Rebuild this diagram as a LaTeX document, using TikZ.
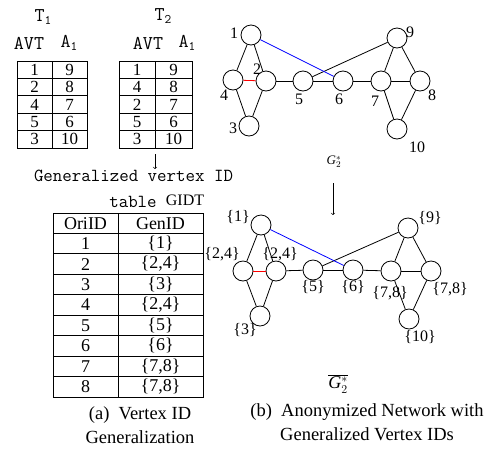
\documentclass[tikz,border=0pt]{standalone}
\usepackage{fontspec}
\setmainfont{Liberation Serif}
\begin{document}
\begin{tikzpicture}[x=1pt,y=-1pt,
  vtx/.style={draw,circle,minimum size=20pt,inner sep=0pt,line width=0.8pt},
  edge/.style={line width=0.8pt},
  lbl/.style={inner sep=0pt,font=\fontsize{16}{18}\selectfont},
  tnum/.style={inner sep=0pt,font=\fontsize{17}{18}\selectfont},
  gnum/.style={inner sep=0pt,font=\fontsize{18}{20}\selectfont},
  mono/.style={inner sep=0pt,font=\fontsize{18.4}{20}\selectfont\ttfamily},
  monob/.style={inner sep=0pt,font=\fontsize{19.5}{20}\selectfont\ttfamily},
  captxt/.style={inner sep=0pt,font=\fontsize{18.5}{20}\selectfont},
  tab/.style={line width=0.8pt},
  arr/.style={->,line width=0.6pt}]
\useasboundingbox (0,0) rectangle (495,448);

% ---------- T1 / T2 ----------
\node[monob] (t1title) at (43,17) {T\raisebox{-0.35ex}{\fontsize{13}{14}\selectfont 1}};
\node[monob] (t2title) at (163,16) {T\raisebox{-0.35ex}{\fontsize{13}{14}\selectfont 2}};
\node[monob] (t1avt) at (29,43) {AVT};
\node[monob] (t1a) at (69,43) {A\raisebox{-0.35ex}{\fontsize{13}{14}\selectfont 1}};
\node[monob] (t2avt) at (148,43) {AVT};
\node[monob] (t2a) at (187,43) {A\raisebox{-0.35ex}{\fontsize{13}{14}\selectfont 1}};

\draw[tab] (17,61) rectangle (87,148);
\draw[tab] (52,61) -- (52,148);
\foreach \k in {1,...,4} \draw[tab] (17,61+\k*17.4) -- (87,61+\k*17.4);
\foreach \a/\b [count=\i] in {1/9,2/8,4/7,5/6,3/10}{
  \node[tnum] (ta\i) at (34.5,61+\i*17.4-8.7) {\a};
  \node[tnum] (tb\i) at (69.5,61+\i*17.4-8.7) {\b};
}
\draw[tab] (119,61) rectangle (192,148);
\draw[tab] (155,61) -- (155,148);
\foreach \k in {1,...,4} \draw[tab] (119,61+\k*17.4) -- (192,61+\k*17.4);
\foreach \a/\b [count=\i] in {1/9,4/8,2/7,5/6,3/10}{
  \node[tnum] (sa\i) at (137,61+\i*17.4-8.7) {\a};
  \node[tnum] (sb\i) at (173.5,61+\i*17.4-8.7) {\b};
}
\coordinate (la0) at (155,154);
\coordinate (la1) at (155,169);
\draw[arr] (la0) -- (la1);

\node[mono] (gentxt) at (133.5,176) {Generalized vertex ID};
\node[mono] (tabtxt) at (133,202) {table};
\node[inner sep=0pt,font=\fontsize{16}{18}\selectfont] (gidt) at (185,200) {GIDT};

% ---------- GIDT table ----------
\draw[tab] (53,213) rectangle (203,397);
\draw[tab] (118,213) -- (118,397);
\foreach \k in {1,...,8} \draw[tab] (53,213+\k*20.44) -- (203,213+\k*20.44);
\foreach \a/\b [count=\i] in {OriID/GenID,1/\{1\},2/{\{2,4\}},3/\{3\},4/{\{2,4\}},5/\{5\},6/\{6\},7/{\{7,8\}},8/{\{7,8\}}}{
  \node[gnum] (ga\i) at (85.5,213+\i*20.44-10.22) {\a};
  \node[gnum] (gb\i) at (160.5,213+\i*20.44-10.22) {\b};
}
\node[captxt] (capa1) at (140,415) {(a)\ \ Vertex ID};
\node[captxt] (capa2) at (140,437) {Generalization};

% ---------- top graph ----------
\node[vtx] (n1) at (251,35) {};
\node[vtx] (n2) at (266,81) {};
\node[vtx] (n4) at (233,80) {};
\node[vtx] (n3) at (249,126) {};
\node[vtx] (n5) at (303,81) {};
\node[vtx] (n6) at (343,81) {};
\node[vtx] (n7) at (381,81) {};
\node[vtx] (n8) at (420,81) {};
\node[vtx] (n9) at (397,38) {};
\node[vtx] (n10) at (397,129) {};
\draw[edge] (n1) -- (n4);
\draw[edge] (n1) -- (n2);
\draw[edge] (n4) -- (n3);
\draw[edge] (n2) -- (n3);
\draw[edge,red] (n4) -- (n2);
\draw[edge] (n2) -- (n5);
\draw[edge] (n5) -- (n6);
\draw[edge] (n6) -- (n7);
\draw[edge] (n7) -- (n8);
\draw[edge] (n7) -- (n9);
\draw[edge] (n9) -- (n8);
\draw[edge] (n7) -- (n10);
\draw[edge] (n8) -- (n10);
\draw[edge] (n5) -- (n9);
\draw[edge,blue] (n1) -- (n6);
\node[lbl] (l1) at (234,33) {1};
\node[lbl] (l2) at (257,69) {2};
\node[lbl] (l4) at (224,95) {4};
\node[lbl] (l3) at (233,128) {3};
\node[lbl] (l5) at (299,99) {5};
\node[lbl] (l6) at (339,99) {6};
\node[lbl] (l7) at (375,101) {7};
\node[lbl] (l8) at (432,95) {8};
\node[lbl] (l9) at (410,32) {9};
\node[lbl] (l10) at (417,147) {10};
\node[inner sep=0pt,font=\fontsize{13}{14}\selectfont] (gtop) at (334,162) {\textit{G}$_{2}^{*}$};
\coordinate (ra0) at (333,183);
\coordinate (ra1) at (333,215);
\draw[arr] (ra0) -- (ra1);

% ---------- bottom graph ----------
\node[vtx] (m1) at (261,225) {};
\node[vtx] (m2) at (243,271) {};
\node[vtx] (m4) at (276,271) {};
\node[vtx] (m3) at (260,316) {};
\node[vtx] (m5) at (313,270) {};
\node[vtx] (m6) at (353,270) {};
\node[vtx] (m7) at (391,271) {};
\node[vtx] (m8) at (431,271) {};
\node[vtx] (m9) at (408,228) {};
\node[vtx] (m10) at (409,319) {};
\draw[edge] (m1) -- (m2);
\draw[edge] (m1) -- (m4);
\draw[edge] (m2) -- (m3);
\draw[edge] (m4) -- (m3);
\draw[edge,red] (m2) -- (m4);
\draw[edge] (m4) -- (m5);
\draw[edge] (m5) -- (m6);
\draw[edge] (m6) -- (m7);
\draw[edge] (m7) -- (m8);
\draw[edge] (m7) -- (m9);
\draw[edge] (m9) -- (m8);
\draw[edge] (m7) -- (m10);
\draw[edge] (m8) -- (m10);
\draw[edge] (m5) -- (m9);
\draw[edge,blue] (m1) -- (m6);
\node[lbl] (k1) at (238,217) {\{1\}};
\node[lbl] (k2) at (222,254) {\{2,4\}};
\node[lbl] (k4) at (280,254) {\{2,4\}};
\node[lbl] (k3) at (245,330) {\{3\}};
\node[lbl] (k5) at (313,287) {\{5\}};
\node[lbl] (k6) at (353,287) {\{6\}};
\node[lbl] (k7) at (390,293) {\{7,8\}};
\node[lbl] (k8) at (450,289) {\{7,8\}};
\node[lbl] (k9) at (430,218) {\{9\}};
\node[lbl] (k10) at (420,337) {\{10\}};
\node[inner sep=0pt,font=\fontsize{18}{20}\selectfont] (gbot) at (338,384) {$\overline{\mbox{\textit{G}$_{2}^{*}$}}$};
\node[captxt] (capb1) at (367,412) {(b)\ \ Anonymized Network with};
\node[captxt] (capb2) at (367,434) {Generalized Vertex IDs};
\end{tikzpicture}
\end{document}
